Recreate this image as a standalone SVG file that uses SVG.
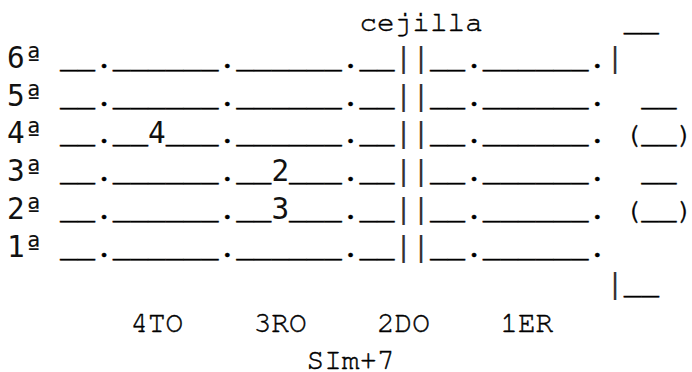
<svg xmlns="http://www.w3.org/2000/svg" width="692" height="372" viewBox="0 0 692 372">
<style>
.m{font-family:"Nimbus Mono PS","FreeMono","Courier","Liberation Mono",monospace;font-size:29.37px;fill:#000;stroke:#000;stroke-width:0.45px;white-space:pre}
.d{font-family:"DejaVu Sans Mono",monospace;font-size:29.37px;fill:#111;white-space:pre}
.p{font-family:"Liberation Mono",monospace;font-size:29.37px;fill:#333;white-space:pre}
</style>
<rect width="692" height="372" fill="#fff"/>
<g id="title">
<text class="m" x="359.5" y="31" xml:space="preserve">cejilla        __</text>
</g>
<g id="string6">
<text class="d" x="7.1" y="68">6ª</text>
<text class="m" x="60" y="68">__.______.______.__</text>
<text class="p" x="394.74" y="68">||</text>
<text class="m" x="429.98" y="68">__.______.</text>
<text class="p" x="606.18" y="68">|</text>
</g>
<g id="string5">
<text class="d" x="7.1" y="105.7">5ª</text>
<text class="m" x="60" y="105.7">__.______.______.__</text>
<text class="p" x="394.74" y="105.7">||</text>
<text class="m" x="429.98" y="105.7" xml:space="preserve">__.______.  __</text>
</g>
<g id="string4">
<text class="d" x="7.1" y="143.4">4ª</text>
<text class="m" x="60" y="143.4">__.__</text>
<text class="d" x="148.1" y="143.4">4</text>
<text class="m" x="165.7" y="143.4">___.______.__</text>
<text class="p" x="394.74" y="143.4">||</text>
<text class="m" x="429.98" y="143.4" xml:space="preserve">__.______. (__)</text>
</g>
<g id="string3">
<text class="d" x="7.1" y="181.1">3ª</text>
<text class="m" x="60" y="181.1">__.______.__</text>
<text class="d" x="271.4" y="181.1">2</text>
<text class="m" x="289" y="181.1">___.__</text>
<text class="p" x="394.74" y="181.1">||</text>
<text class="m" x="429.98" y="181.1" xml:space="preserve">__.______.  __</text>
</g>
<g id="string2">
<text class="d" x="7.1" y="218.8">2ª</text>
<text class="m" x="60" y="218.8">__.______.__</text>
<text class="d" x="271.4" y="218.8">3</text>
<text class="m" x="289" y="218.8">___.__</text>
<text class="p" x="394.74" y="218.8">||</text>
<text class="m" x="429.98" y="218.8" xml:space="preserve">__.______. (__)</text>
</g>
<g id="string1">
<text class="d" x="7.1" y="256.5">1ª</text>
<text class="m" x="60" y="256.5">__.______.______.__</text>
<text class="p" x="394.74" y="256.5">||</text>
<text class="m" x="429.98" y="256.5">__.______.</text>
</g>
<g id="chord">
<text class="p" x="606.18" y="294.2">|</text>
<text class="m" x="623.8" y="294.2">__</text>
</g>
<g id="frets">
<text class="m" x="130.4" y="331.9" xml:space="preserve">4TO    3RO    2DO    1ER</text>
</g>
<g id="name">
<text class="m" x="306.6" y="368.5">SIm+7</text>
</g>
</svg>
